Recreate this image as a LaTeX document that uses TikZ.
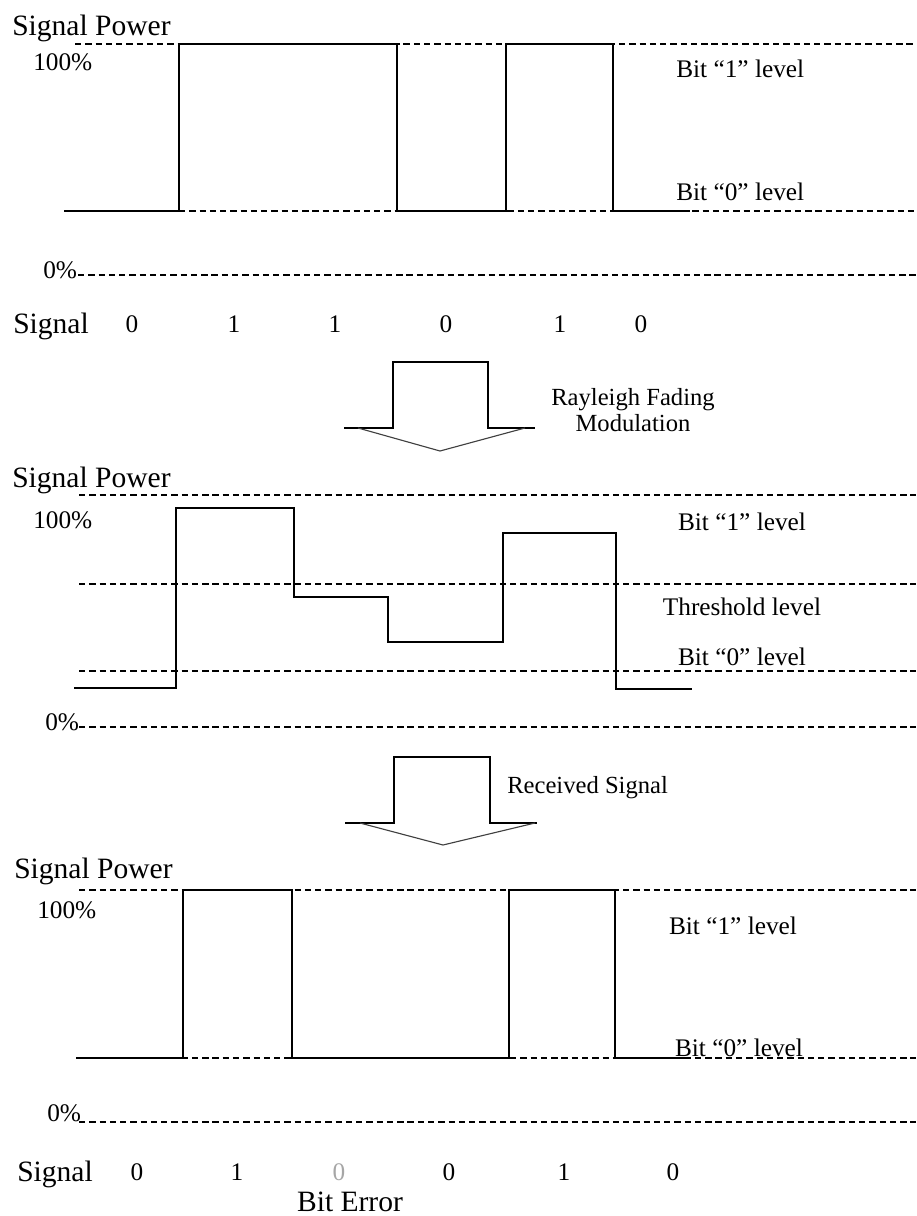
\documentclass[tikz,border=0pt]{standalone}
\usepackage{fontspec}
\setmainfont{Liberation Serif}
\usetikzlibrary{positioning}

\begin{document}
\begin{tikzpicture}[
  x=0.025cm, y=-0.025cm,
  lbl/.style={inner sep=0pt, font=\fontsize{18}{20}\selectfont},
  big/.style={inner sep=0pt, font=\fontsize{21}{23}\selectfont},
  note/.style={inner sep=0pt, align=center, font=\fontsize{17.5}{18}\selectfont},
  level/.style={dashed, dash pattern=on 4.5pt off 2.8pt, line width=0.9pt},
  wave/.style={line width=1pt, line join=miter},
  blockarrow/.style={line width=1pt},
  headline/.style={line width=0.8pt, black!75}
]
\useasboundingbox (0,0) rectangle (916,1216);

% transmitted signal
\node[big, anchor=west] (powA) at (12,28) {Signal Power};
\node[lbl, anchor=west] (fullA) at (33,62) {100\%};
\node[lbl, anchor=west] (zeroA) at (43,270) {0\%};
\node[lbl, anchor=west] (oneA) at (676,69) {Bit “1” level};
\node[lbl, anchor=west] (lowA) at (676,192) {Bit “0” level};
\draw[level] (75,44) -- (916,44);
\draw[level] (179,211) -- (916,211);
\draw[level] (78,275) -- (916,275);
\draw[wave] (64,211) -- (179,211) -- (179,44) -- (397,44) -- (397,211)
  -- (506,211) -- (506,44) -- (613,44) -- (613,211) -- (690,211);
\node[big, anchor=base] (sigA) at (51,333) {Signal};
\foreach \x/\b [count=\i] in {132/0,234/1,335/1,446/0,560/1,641/0}
  \node[lbl, anchor=base] (bitA\i) at (\x,332) {\b};

% fading
\draw[blockarrow] (344,428) -- (393,428) -- (393,362) -- (488,362) -- (488,428) -- (535,428);
\draw[headline] (358,428) -- (440,451) -- (525,428);
\node[note] (fading) at (633,410) {Rayleigh Fading\\Modulation};

% faded signal
\node[big, anchor=west] (powB) at (12,480) {Signal Power};
\node[lbl, anchor=west] (fullB) at (33,520) {100\%};
\node[lbl, anchor=west] (zeroB) at (45,722) {0\%};
\node[lbl] (oneB) at (742,522) {Bit “1” level};
\node[lbl] (thrB) at (742,607) {Threshold level};
\node[lbl] (lowB) at (742,657) {Bit “0” level};
\draw[level] (79,495) -- (916,495);
\draw[level] (79,584) -- (916,584);
\draw[level] (79,671) -- (916,671);
\draw[level] (79,727) -- (916,727);
\draw[wave] (74,688) -- (176,688) -- (176,508) -- (294,508) -- (294,597)
  -- (388,597) -- (388,642) -- (503,642) -- (503,533) -- (616,533)
  -- (616,689) -- (692,689);

% receiver
\draw[blockarrow] (345,823) -- (394,823) -- (394,757) -- (490,757) -- (490,823) -- (537,823);
\draw[headline] (360,823) -- (443,845) -- (535,823);
\node[note, anchor=west] (recv) at (507,788) {Received Signal};

% received signal
\node[big, anchor=west] (powC) at (14,871) {Signal Power};
\node[lbl, anchor=west] (fullC) at (37,910) {100\%};
\node[lbl, anchor=west] (zeroC) at (47,1113) {0\%};
\node[lbl] (oneC) at (733,926) {Bit “1” level};
\node[lbl] (lowC) at (739,1048) {Bit “0” level};
\draw[level] (79,890) -- (916,890);
\draw[level] (79,1058) -- (916,1058);
\draw[level] (79,1122) -- (916,1122);
\draw[wave] (76,1058) -- (183,1058) -- (183,890) -- (292,890) -- (292,1058)
  -- (509,1058) -- (509,890) -- (615,890) -- (615,1058) -- (689,1058);
\node[big, anchor=base] (sigC) at (55,1181) {Signal};
\foreach \x/\b/\c [count=\i] in {137/0/black,237/1/black,339/0/black!35,449/0/black,564/1/black,673/0/black}
  \node[lbl, anchor=base, text=\c] (bitC\i) at (\x,1180) {\b};
\node[big, anchor=base] (err) at (350,1211) {Bit Error};
\end{tikzpicture}
\end{document}
